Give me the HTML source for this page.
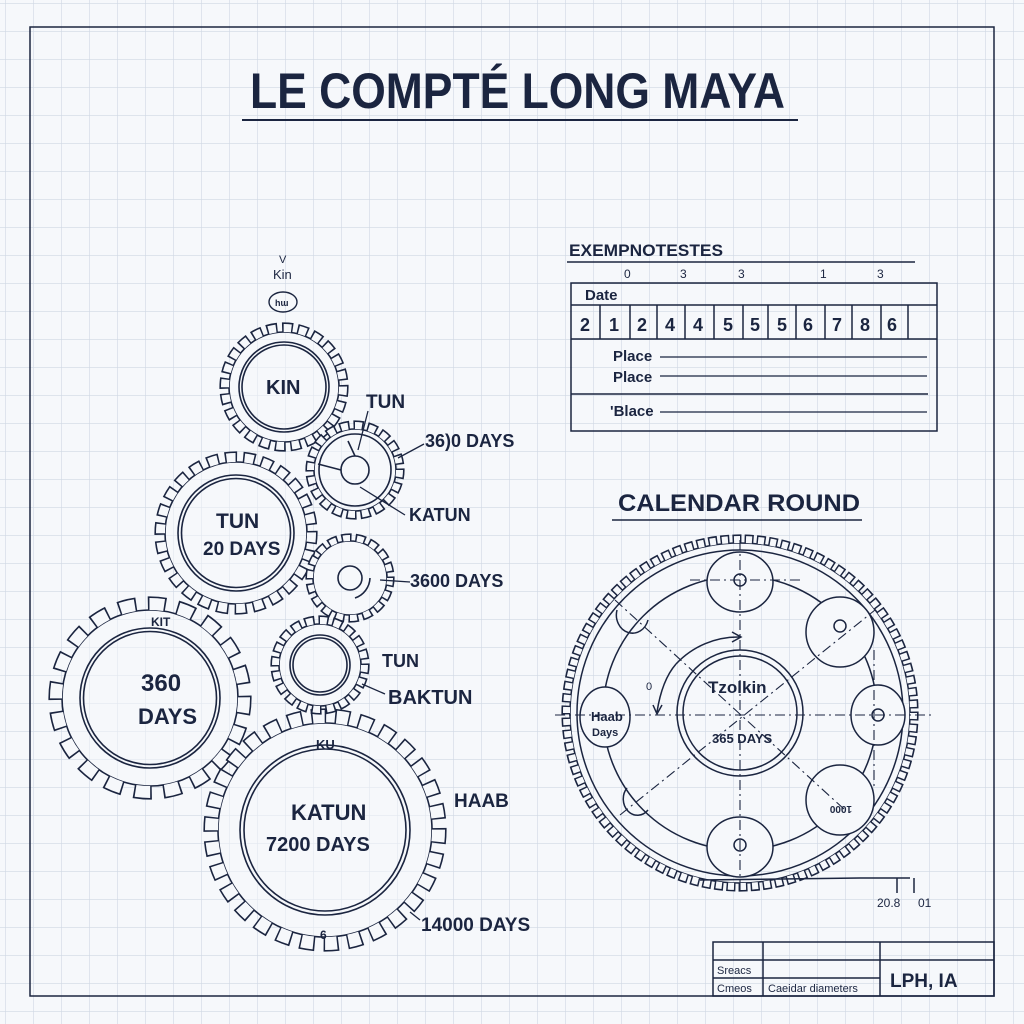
<!DOCTYPE html>
<html><head><meta charset="utf-8"><style>
html,body{margin:0;padding:0;background:#f6f8fb}
svg{display:block}
text{font-family:"Liberation Sans",sans-serif;fill:#1b2540;font-weight:bold}
.n{font-weight:normal}
</style></head><body>
<svg width="1024" height="1024" viewBox="0 0 1024 1024" xmlns="http://www.w3.org/2000/svg">
<defs>
<pattern id="g" width="28" height="28" patternUnits="userSpaceOnUse" x="6" y="4">
<path d="M28 0V28M0 28H28" fill="none" stroke="#cfd8e3" stroke-width="1.2"/>
</pattern>
</defs>
<rect width="1024" height="1024" fill="#f6f8fb"/>
<rect width="1024" height="1024" fill="url(#g)"/>
<rect x="30" y="27" width="964" height="969" fill="none" stroke="#1b2540" stroke-width="1.5"/>

<text x="250" y="108" font-size="50" textLength="535" lengthAdjust="spacingAndGlyphs">LE COMPTÉ LONG MAYA</text>
<line x1="242" y1="120" x2="798" y2="120" stroke="#1b2540" stroke-width="2"/>

<g stroke="#1b2540" stroke-width="1.6" fill="none">
<g transform="translate(150,698)">
<circle r="88" fill="#f6f8fb" fill-opacity="0.5"/>
<circle r="94.8" stroke-width="13.6" pathLength="200" stroke-dasharray="6.1 3.9" stroke-dashoffset="0.55"/>
<circle r="94" stroke-width="12" stroke="#f6f8fb" pathLength="200" stroke-dasharray="5 5"/>
<circle r="70"/><circle r="66.5"/>
</g>
<g transform="translate(325,830)">
<circle r="107" fill="#f6f8fb" fill-opacity="0.5"/>
<circle r="114.3" stroke-width="14.6" pathLength="300" stroke-dasharray="6.3 3.7" stroke-dashoffset="0.67"/>
<circle r="113.5" stroke-width="13" stroke="#f6f8fb" pathLength="300" stroke-dasharray="5 5"/>
<circle r="85"/><circle r="81"/>
</g>
<g transform="translate(236,533)">
<circle r="71" fill="#f6f8fb" fill-opacity="0.5"/>
<circle r="76.3" stroke-width="10.6" pathLength="260" stroke-dasharray="6.7 3.3" stroke-dashoffset="0.87"/>
<circle r="75.5" stroke-width="9" stroke="#f6f8fb" pathLength="260" stroke-dasharray="5 5"/>
<circle r="58"/><circle r="54.5"/>
</g>
<g transform="translate(284,387)">
<circle r="55" fill="#f6f8fb" fill-opacity="0.5"/>
<circle r="59.8" stroke-width="9.6" pathLength="240" stroke-dasharray="7 3" stroke-dashoffset="1.03"/>
<circle r="59" stroke-width="8" stroke="#f6f8fb" pathLength="240" stroke-dasharray="5 5"/>
<circle r="45"/><circle r="42"/>
</g>
<g transform="translate(355,470)">
<circle r="41" fill="#f6f8fb" fill-opacity="0.5"/>
<circle r="45.3" stroke-width="8.6" pathLength="200" stroke-dasharray="7.2 2.8" stroke-dashoffset="1.1"/>
<circle r="44.5" stroke-width="7" stroke="#f6f8fb" pathLength="200" stroke-dasharray="5 5"/>
<circle r="36"/><circle r="14"/>
</g>
<g transform="translate(350,578)">
<circle r="37" fill="#f6f8fb" fill-opacity="0.5"/>
<circle r="40.8" stroke-width="7.6" pathLength="180" stroke-dasharray="7.2 2.8" stroke-dashoffset="1.1"/>
<circle r="40" stroke-width="6" stroke="#f6f8fb" pathLength="180" stroke-dasharray="5 5"/>
<circle r="12"/>
</g>
<g transform="translate(320,665)">
<circle r="41" fill="#f6f8fb" fill-opacity="0.5"/>
<circle r="45.3" stroke-width="8.6" pathLength="200" stroke-dasharray="7.2 2.8" stroke-dashoffset="1.1"/>
<circle r="44.5" stroke-width="7" stroke="#f6f8fb" pathLength="200" stroke-dasharray="5 5"/>
<circle r="30"/><circle r="27"/>
</g>
<path d="M355 456 L348 441 M341 470 L318 464 M370 578 A22 22 0 0 1 355 598"/>
</g>

<text x="279" y="263" font-size="11" class="n">V</text>
<text x="273" y="279" font-size="13" class="n">Kin</text>
<ellipse cx="283" cy="302" rx="14" ry="10" fill="none" stroke="#1b2540" stroke-width="1.4"/>
<text x="275" y="306" font-size="9">hɯ</text>
<text x="266" y="394" font-size="20">KIN</text>
<text x="366" y="408" font-size="19">TUN</text>
<text x="425" y="447" font-size="18">36)0 DAYS</text>
<text x="409" y="521" font-size="18">KATUN</text>
<text x="216" y="528" font-size="21">TUN</text>
<text x="203" y="555" font-size="19">20 DAYS</text>
<text x="410" y="587" font-size="18">3600 DAYS</text>
<text x="382" y="667" font-size="18">TUN</text>
<text x="388" y="704" font-size="20">BAKTUN</text>
<text x="151" y="626" font-size="12">KIT</text>
<text x="141" y="691" font-size="24">360</text>
<text x="138" y="724" font-size="22">DAYS</text>
<text x="316" y="749" font-size="13">KU</text>
<text x="454" y="807" font-size="19">HAAB</text>
<text x="291" y="820" font-size="22">KATUN</text>
<text x="266" y="851" font-size="20">7200 DAYS</text>
<text x="421" y="931" font-size="19">14000 DAYS</text>
<text x="320" y="939" font-size="12">6</text>
<g stroke="#1b2540" stroke-width="1.3" fill="none">
<path d="M368 411 L358 450 M360 487 L405 515 M398 458 L424 444 M380 580 L410 582 M362 684 L385 694 M410 912 L420 920"/>
</g>

<text x="569" y="256" font-size="17" textLength="154" lengthAdjust="spacingAndGlyphs">EXEMPNOTESTES</text>
<line x1="567" y1="262" x2="915" y2="262" stroke="#1b2540" stroke-width="1.5"/>
<g font-size="12">
<text x="624" y="278" class="n">0</text><text x="680" y="278" class="n">3</text>
<text x="738" y="278" class="n">3</text><text x="820" y="278" class="n">1</text>
<text x="877" y="278" class="n">3</text></g>
<g fill="none" stroke="#1b2540" stroke-width="1.5">
<rect x="571" y="283" width="366" height="148"/>
<line x1="571" y1="305" x2="937" y2="305"/>
<line x1="571" y1="339" x2="937" y2="339"/>
<line x1="571" y1="394" x2="928" y2="394"/>
<path d="M600 305V339M630 305V339M657 305V339M685 305V339M714 305V339M743 305V339M768 305V339M796 305V339M825 305V339M852 305V339M881 305V339M908 305V339"/>
<path d="M660 357H927M660 376H927M660 412H927" stroke-width="1.2"/>
</g>
<text x="585" y="300" font-size="15">Date</text>
<g font-size="18">
<text x="580" y="331">2</text><text x="609" y="331">1</text><text x="637" y="331">2</text><text x="665" y="331">4</text>
<text x="693" y="331">4</text><text x="723" y="331">5</text><text x="750" y="331">5</text><text x="777" y="331">5</text>
<text x="803" y="331">6</text><text x="832" y="331">7</text><text x="860" y="331">8</text><text x="887" y="331">6</text></g>
<text x="613" y="361" font-size="15">Place</text>
<text x="613" y="382" font-size="15">Place</text>
<text x="610" y="416" font-size="15">'Blace</text>

<text x="618" y="511" font-size="24" textLength="242" lengthAdjust="spacingAndGlyphs">CALENDAR ROUND</text>
<line x1="612" y1="520" x2="862" y2="520" stroke="#1b2540" stroke-width="1.5"/>
<g fill="none" stroke="#1b2540" stroke-width="1.5">
<g transform="translate(740,713)">
<circle r="170"/>
<circle r="174.3" stroke-width="8.6" pathLength="900" stroke-dasharray="7.4 2.6" stroke-dashoffset="1.2"/>
<circle r="173.5" stroke-width="7" stroke="#f6f8fb" pathLength="900" stroke-dasharray="5 5"/>
</g>
<circle cx="740" cy="713" r="163"/>
<circle cx="740" cy="713" r="137"/>
<circle cx="740" cy="713" r="63"/>
<circle cx="740" cy="713" r="57"/>
<ellipse cx="740" cy="582" rx="33" ry="30" fill="#f6f8fb"/>
<ellipse cx="840" cy="632" rx="34" ry="35" fill="#f6f8fb"/>
<ellipse cx="878" cy="715" rx="27" ry="30" fill="#f6f8fb"/>
<ellipse cx="840" cy="800" rx="34" ry="35" fill="#f6f8fb"/>
<ellipse cx="740" cy="847" rx="33" ry="30" fill="#f6f8fb"/>
<ellipse cx="605" cy="717" rx="25" ry="30" fill="#f6f8fb"/>
<path d="M617 610 A16 18 0 1 0 648 620"/>
<path d="M627 788 A14 16 0 0 0 648 810"/>
<circle cx="740" cy="580" r="6"/><circle cx="840" cy="626" r="6"/><circle cx="878" cy="715" r="6"/><circle cx="740" cy="845" r="6"/>
<g stroke-dasharray="10 4 2 4" stroke-width="1.1">
<line x1="555" y1="715" x2="935" y2="715"/>
<line x1="740" y1="540" x2="740" y2="890"/>
<line x1="615" y1="600" x2="845" y2="810"/>
<line x1="620" y1="815" x2="875" y2="610"/>
<line x1="690" y1="580" x2="800" y2="580"/>
<line x1="874" y1="650" x2="874" y2="790"/>
</g>
<path d="M676 664 A85 85 0 0 1 740 637"/>
<path d="M732 632 L741 637 L732 642"/>
<path d="M676 664 Q662 680 657 712"/>
<path d="M653 705 L657 714 L662 705"/>
<path d="M700 880 L860 878 H910 M897 878V893 M914 878V893"/>
</g>
<text x="708" y="693" font-size="17">Tzolkin</text>
<text x="712" y="743" font-size="13">365 DAYS</text>
<text x="591" y="721" font-size="13">Haab</text>
<text x="592" y="736" font-size="11">Days</text>
<text x="646" y="690" font-size="11" class="n">0</text>
<text x="828" y="818" font-size="10" transform="rotate(180 840 812)">1000</text>
<text x="877" y="907" font-size="12" class="n">20.8</text>
<text x="918" y="907" font-size="12" class="n">01</text>

<g fill="none" stroke="#1b2540" stroke-width="1.5">
<rect x="713" y="942" width="281" height="54"/>
<line x1="713" y1="960" x2="994" y2="960"/>
<line x1="763" y1="942" x2="763" y2="996"/>
<line x1="880" y1="942" x2="880" y2="996"/>
<line x1="713" y1="978" x2="880" y2="978"/>
</g>
<text x="717" y="974" font-size="11" class="n">Sreacs</text>
<text x="717" y="992" font-size="11" class="n">Cmeos</text>
<text x="768" y="992" font-size="11" class="n">Caeidar diameters</text>
<text x="890" y="987" font-size="19">LPH, IA</text>
</svg>
</body></html>
